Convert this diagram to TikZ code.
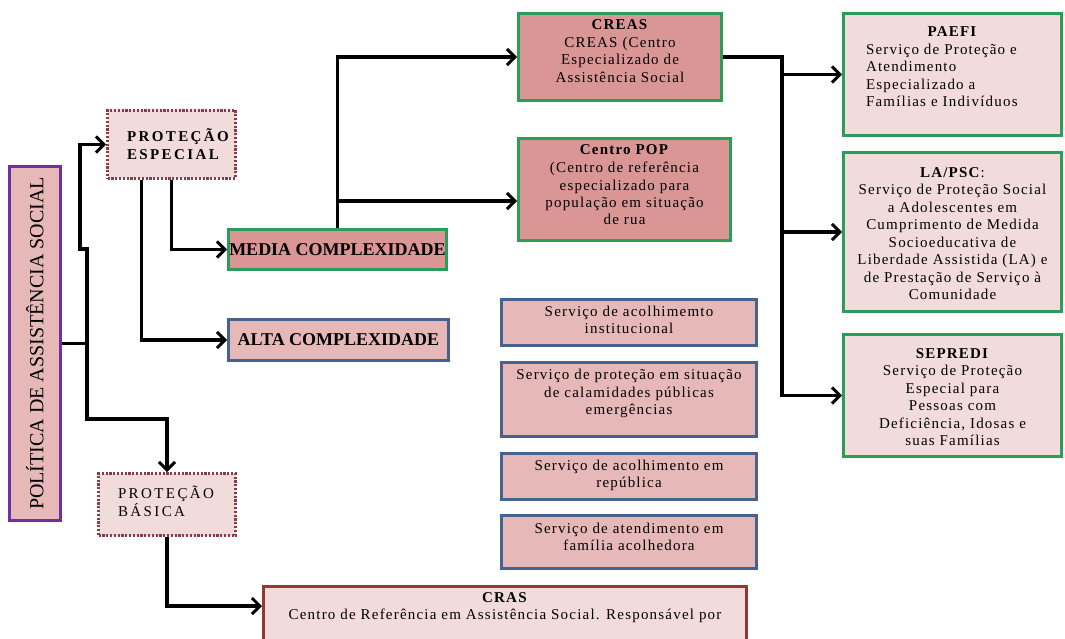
\documentclass[tikz,border=0pt]{standalone}
\usepackage{fontspec}
\setmainfont{Liberation Serif}
\newfontfamily\lsp[LetterSpace=8]{Liberation Serif}
\newfontfamily\capsp[LetterSpace=16]{Liberation Serif}
\usetikzlibrary{arrows.meta}
\definecolor{pdark}{HTML}{D99694}
\definecolor{pmid}{HTML}{E6B9B8}
\definecolor{plight}{HTML}{F2DCDB}
\definecolor{gborder}{HTML}{2A9E57}
\definecolor{bborder}{HTML}{46628F}
\definecolor{rborder}{HTML}{953735}
\definecolor{dborder}{HTML}{8A3A4A}
\definecolor{vborder}{HTML}{7030A0}
\newcommand\bx[4]{\parbox[c][\dimexpr#2pt-3pt\relax][t]{\dimexpr#1pt-3pt\relax}{\centering\rule{0pt}{#3pt}#4\par}}
\tikzset{
  basebox/.style={draw, line width=3pt, inner sep=0pt, anchor=north west,
    font=\lsp\fontsize{15}{17.5}\selectfont},
  gbox/.style={basebox, draw=gborder},
  bbox/.style={basebox, draw=bborder, fill=pmid},
  dotbox/.style={basebox, draw=dborder, fill=plight, dash pattern=on 2.2pt off 1.6pt,
    font=\capsp\fontsize{15}{18}\selectfont},
  capbox/.style={draw, line width=3pt, inner sep=0pt,
    font=\bfseries\fontsize{18}{18}\selectfont},
  conn/.style={line width=3.3pt, draw=black},
  arr/.style={conn, -{Straight Barb[length=8pt,width=16pt,line width=3pt]}}
}
\begin{document}
\begin{tikzpicture}[x=1pt,y=-1pt]
\useasboundingbox (0,0) rectangle (1065,639);
\clip (0,0) rectangle (1065,639);

% left column
\node[capbox, draw=vborder, fill=pmid, rotate=90, minimum width=354pt, minimum height=51pt,
  font=\fontsize{20}{20}\selectfont] (pol) at (35,343.5) {POLÍTICA DE ASSISTÊNCIA SOCIAL};

\node[dotbox] (pe) at (106,109) {\bx{131}{71}{31.5}{\raggedright\leftskip=19.5pt\textbf{PROTEÇÃO}\\\textbf{ESPECIAL}}};
\node[dotbox] (pb) at (97,472) {\bx{140}{65}{24.5}{\raggedright\leftskip=19.5pt PROTEÇÃO\\BÁSICA}};

\node[capbox, draw=gborder, fill=pdark, minimum width=218pt, minimum height=40pt] (med) at (337.5,249.5) {MEDIA COMPLEXIDADE};
\node[capbox, draw=bborder, fill=pmid, minimum width=220pt, minimum height=41pt] (alta) at (338.5,340) {ALTA COMPLEXIDADE};

% middle column
\node[gbox, fill=pdark] (creas) at (517,12) {\bx{206}{90}{16.5}{\textbf{CREAS}\\CREAS (Centro\\Especializado de\\Assistência Social}};
\node[gbox, fill=pdark] (pop) at (517,137) {\bx{215}{105}{16.5}{\textbf{Centro POP}\\(Centro de referência\\especializado para\\população em situação\\de rua}};

\node[bbox] (s1) at (500,298) {\bx{258}{49}{16.5}{Serviço de acolhimemto\\institucional}};
\node[bbox] (s2) at (500,361) {\bx{258}{77}{17}{Serviço de proteção em situação\\de calamidades públicas\\emergências}};
\node[bbox] (s3) at (500,452) {\bx{258}{49}{16.5}{Serviço de acolhimento em\\república}};
\node[bbox] (s4) at (500,514) {\bx{258}{56}{17.5}{Serviço de atendimento em\\família acolhedora}};

\node[basebox, draw=rborder, fill=plight] (cras) at (262,585) {\bx{486}{80}{15.5}{\textbf{CRAS}\\Centro de Referência em Assistência Social. Responsável por}};

% right column
\node[gbox, fill=plight] (paefi) at (842,12) {\bx{221}{125}{23.5}{\textbf{PAEFI}\par\raggedright\leftskip=22.5pt Serviço de Proteção e\\Atendimento\\Especializado a\\Famílias e Indivíduos}};
\node[gbox, fill=plight] (lapsc) at (842,151) {\bx{221}{162}{24.5}{\textbf{LA/PSC}:\\Serviço de Proteção Social\\a Adolescentes em\\Cumprimento de Medida\\Socioeducativa de\\Liberdade Assistida (LA) e\\de Prestação de Serviço à\\Comunidade}};
\node[gbox, fill=plight] (sepredi) at (842,333) {\bx{221}{125}{23.5}{\textbf{SEPREDI}\\Serviço de Proteção\\Especial para\\Pessoas com\\Deficiência, Idosas e\\suas Famílias}};

% connectors
\coordinate (j1) at (87,343.5);
\coordinate (j2) at (80,249);
\coordinate (j3) at (87,419);
\draw[conn] (pol.south) -- (j1);
\draw[arr] (j1) |- (j2) |- (pe.west);
\draw[arr] (j1) -- (j3) -| (pb.north);
\draw[arr] (pe.south) |- (med.west);
\draw[arr] ([xshift=-30pt]pe.south) |- (alta.west);
\draw[arr] (med.north) |- (creas.west);
\coordinate (kp) at (337.5,201);
\draw[arr] (kp) -- (kp -| pop.west);
\coordinate (rb) at (782,57);
\draw[arr] (creas.east) -| (rb |- sepredi.west) -- (sepredi.west);
\draw[arr] (rb |- paefi.west) -- (paefi.west);
\draw[arr] (rb |- lapsc.west) -- (lapsc.west);
\coordinate (cr) at (0,606);
\draw[arr] (pb.south) |- (cras.west |- cr);
\end{tikzpicture}
\end{document}
